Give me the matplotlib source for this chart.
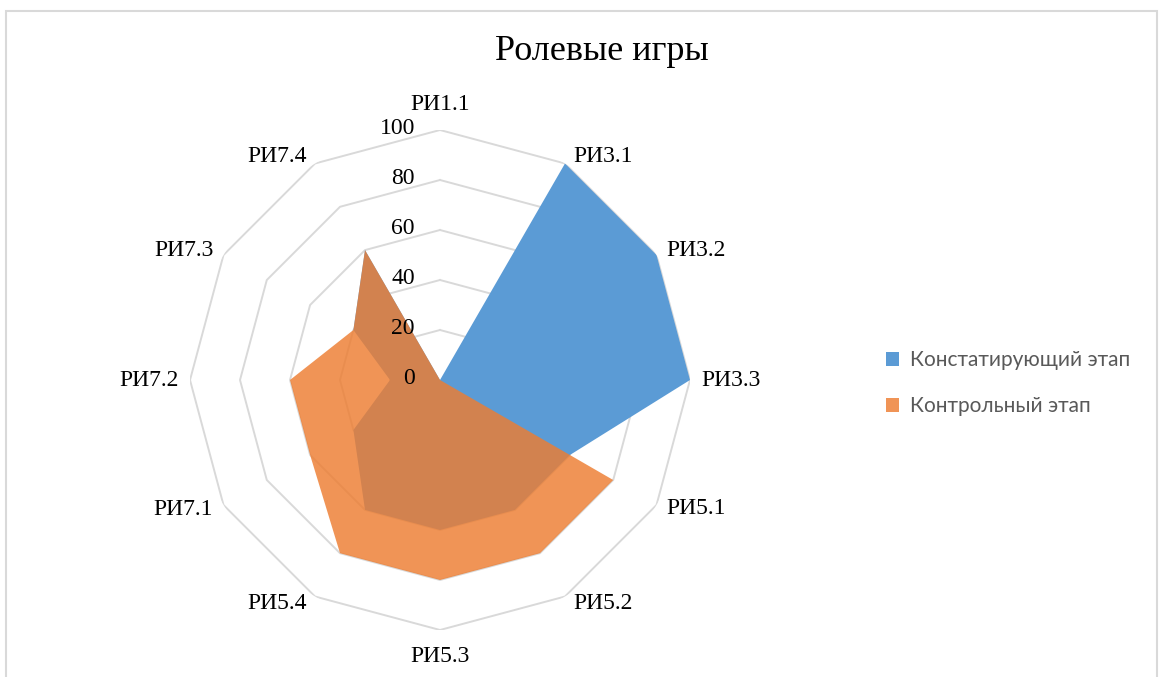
import numpy as np
import matplotlib.pyplot as plt
from matplotlib.patches import Rectangle

# data
categories = ['РИ1.1', 'РИ3.1', 'РИ3.2', 'РИ3.3', 'РИ5.1', 'РИ5.2',
              'РИ5.3', 'РИ5.4', 'РИ7.1', 'РИ7.2', 'РИ7.3', 'РИ7.4']
stage1 = [0, 100, 100, 100, 60, 60, 60, 60, 40, 20, 40, 60]
stage2 = [0, 0, 0, 0, 80, 80, 80, 80, 60, 60, 40, 60]
series_names = ['Констатирующий этап', 'Контрольный этап']
rticks = [0, 20, 40, 60, 80, 100]

W, H = 1159, 677
fig = plt.figure(figsize=(W/100, H/100), dpi=100)

# center (440,380) px from top-left, radius 250 px
cx, cy, R = 440, 380, 250
ax = fig.add_axes([(cx-R)/W, (H-cy-R)/H, 2*R/W, 2*R/H], projection='polar')
ax.set_theta_offset(np.pi/2)
ax.set_theta_direction(-1)
ax.set_ylim(0, 100)
ax.grid(False)
ax.spines['polar'].set_visible(False)
ax.set_xticks([])
ax.set_yticks([])
ax.patch.set_alpha(0)

n = len(categories)
theta = np.arange(n) * 2*np.pi/n
tc = np.append(theta, theta[0])

# polygon gridlines
for r in rticks[1:]:
    ax.plot(tc, [r]*(n+1), color='#D9D9D9', lw=1.4, zorder=1)

p1 = ax.fill(tc, np.append(stage1, stage1[0]), color='#5B9BD5', lw=0, zorder=2,
             label=series_names[0])[0]
p2 = ax.fill(tc, np.append(stage2, stage2[0]), color='#ED7D31', alpha=0.82, lw=0,
             zorder=3, label=series_names[1])[0]

serif = 'Liberation Serif'

# radial labels
for r in rticks:
    ax.annotate(str(r), xy=(0, r), xytext=(-25, 2), textcoords='offset pixels',
                ha='right', va='center', fontsize=17, family=serif, zorder=5,
                annotation_clip=False)

# category labels
for t, lab in zip(theta, categories):
    s, c = np.sin(t), np.cos(t)
    if abs(s) < 0.01:
        ha, dx, dy = 'center', 0, 26*c
    else:
        ha = 'left' if s > 0 else 'right'
        dx = np.sign(s)*(5 + 6*abs(s))
        dy = 8*c
    ax.annotate(lab, xy=(t, 100), xytext=(dx, dy), textcoords='offset pixels',
                ha=ha, va='center', fontsize=17, family=serif,
                annotation_clip=False)

fig.text(602/W, 1 - 51/H, 'Ролевые игры', ha='center', va='center',
         fontsize=26, family=serif)

leg = fig.legend(handles=[p1, p2], loc='center left',
                 bbox_to_anchor=(867/W, 1 - 383/H), frameon=False,
                 handlelength=0.65, handleheight=0.65, handletextpad=0.5,
                 labelspacing=1.25, prop={'family': 'Lato', 'size': 15})
for txt in leg.get_texts():
    txt.set_color('#595959')

fig.add_artist(Rectangle((6/W, -0.1), 1151/W, (H-11)/H + 0.1,
                         transform=fig.transFigure, fill=False,
                         ec='#D9D9D9', lw=1.5))

fig.savefig('out.png', dpi=100)
